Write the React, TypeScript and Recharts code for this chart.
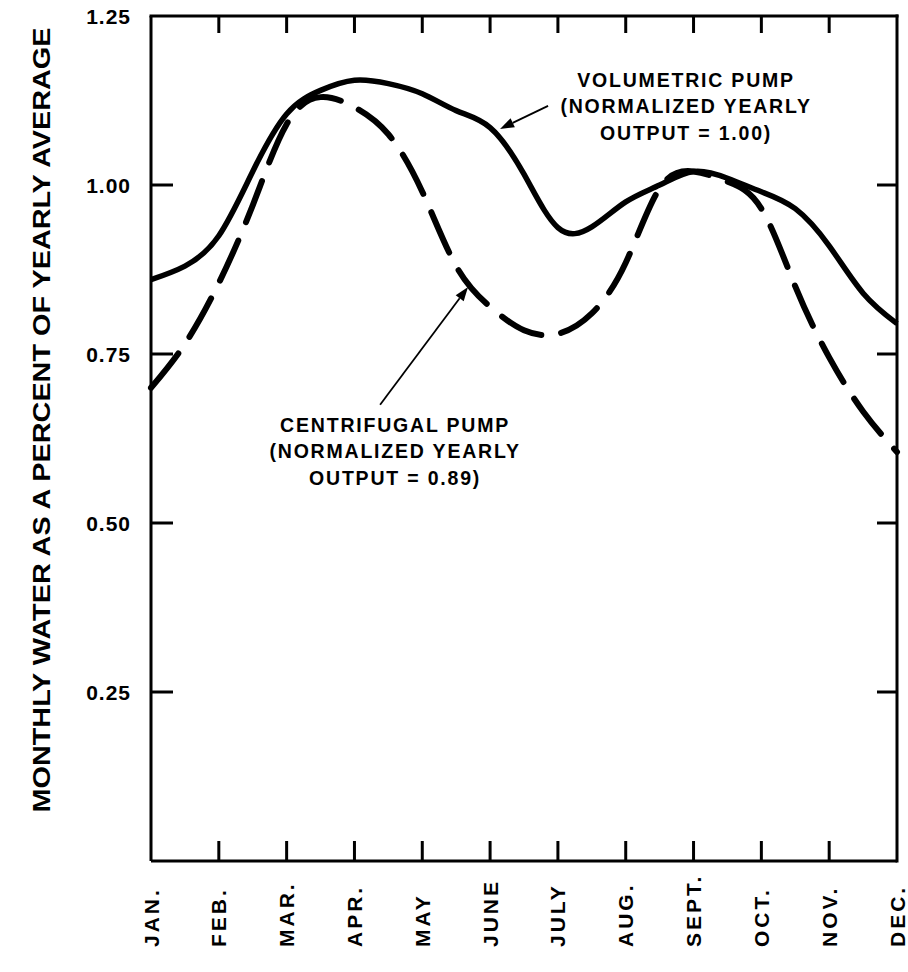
import { LineChart, Line, XAxis, YAxis, ReferenceLine, Label } from "recharts";

// month positions: 0 = JAN ... 11 = DEC, read every half month
const MONTHS = ["JAN.", "FEB.", "MAR.", "APR.", "MAY", "JUNE", "JULY", "AUG.", "SEPT.", "OCT.", "NOV.", "DEC."];
const POSITIONS = [0, 0.5, 1, 1.5, 2, 2.5, 3, 3.5, 4, 4.5, 5, 5.5, 6, 6.5, 7, 7.5, 8, 8.5, 9, 9.5, 10, 10.5, 11];
const VOLUMETRIC = [0.86, 0.88, 0.925, 1.02, 1.105, 1.14, 1.155, 1.15, 1.135, 1.11, 1.085, 1.016, 0.937, 0.938, 0.975, 1.0, 1.02, 1.01, 0.99, 0.965, 0.91, 0.84, 0.795];
const CENTRIFUGAL = [0.7, 0.765, 0.855, 0.97, 1.09, 1.13, 1.115, 1.075, 0.99, 0.88, 0.82, 0.785, 0.78, 0.81, 0.885, 0.995, 1.02, 1.005, 0.965, 0.85, 0.745, 0.665, 0.605];
const Y_TICKS = [0.25, 0.5, 0.75, 1.0, 1.25];
const Y_INNER_TICKS = [0.25, 0.5, 0.75, 1.0];
const X_TICKS = [0, 1, 2, 3, 4, 5, 6, 7, 8, 9, 10, 11];
const X_INNER_TICKS = [1, 2, 3, 4, 5, 6, 7, 8, 9, 10];

const VOL_NOTE = ["VOLUMETRIC PUMP", "(NORMALIZED YEARLY", "OUTPUT = 1.00)"];
const CEN_NOTE = ["CENTRIFUGAL PUMP", "(NORMALIZED YEARLY", "OUTPUT = 0.89)"];

const data = POSITIONS.map((m, i) => ({ m, vol: VOLUMETRIC[i], cen: CENTRIFUGAL[i] }));

const FONT = "'Liberation Sans', Arial, Helvetica, sans-serif";
const INK = "#000";
const FRAME = { stroke: INK, strokeWidth: 3 };

function MonthTick(props: any) {
  const { x, y, payload } = props;
  const ty = y + 86;
  return (
    <text
      x={x}
      y={ty}
      dy="0.36em"
      transform={`rotate(-90 ${x} ${ty})`}
      textAnchor="start"
      fontFamily={FONT}
      fontWeight="bold"
      fontSize={21}
      letterSpacing={3}
      fill={INK}
    >
      {MONTHS[payload.value]}
    </text>
  );
}

function ValueTick(props: any) {
  const { x, y, payload } = props;
  return (
    <text
      x={x}
      y={y}
      dy="0.36em"
      textAnchor="end"
      fontFamily={FONT}
      fontWeight="bold"
      fontSize={21}
      letterSpacing={1}
      fill={INK}
    >
      {payload.value.toFixed(2)}
    </text>
  );
}

// short inward tick stubs at both ends of a full-height / full-width reference line
const vStub = (p: any) => {
  const top = Math.min(p.y1, p.y2);
  const bot = Math.max(p.y1, p.y2);
  return (
    <g>
      <line x1={p.x1} x2={p.x1} y1={top} y2={top + 17} {...FRAME} />
      <line x1={p.x1} x2={p.x1} y1={bot} y2={bot - 20} {...FRAME} />
    </g>
  );
};
const hStub = (p: any) => {
  const left = Math.min(p.x1, p.x2);
  const right = Math.max(p.x1, p.x2);
  return (
    <g>
      <line y1={p.y1} y2={p.y1} x1={left} x2={left + 22} {...FRAME} />
      <line y1={p.y1} y2={p.y1} x1={right} x2={right - 20} {...FRAME} />
    </g>
  );
};
// top and right edges of the frame
const edge = (p: any) => (
  <line x1={p.x1} y1={p.y1} x2={p.x2} y2={p.y2} {...FRAME} strokeLinecap="square" />
);

// arrow from (x1,y1) to tip (x2,y2) plus a centred text block near the tail
function noteShape(lines: string[], dx: number, dy: number) {
  return (p: any) => {
    const { x1, y1, x2, y2 } = p;
    const ang = Math.atan2(y2 - y1, x2 - x1);
    const len = 14;
    const w = 5;
    const bx = x2 - len * Math.cos(ang);
    const by = y2 - len * Math.sin(ang);
    const px = -Math.sin(ang) * w;
    const py = Math.cos(ang) * w;
    return (
      <g>
        <line x1={x1} y1={y1} x2={bx} y2={by} stroke={INK} strokeWidth={1.8} />
        <polygon points={`${x2},${y2} ${bx + px},${by + py} ${bx - px},${by - py}`} fill={INK} />
        {lines.map((t, i) => (
          <text
            key={i}
            x={x1 + dx}
            y={y1 + dy + i * 26.5}
            dy="0.36em"
            textAnchor="middle"
            fontFamily={FONT}
            fontWeight="bold"
            fontSize={19.5}
            letterSpacing={1.8}
            fill={INK}
          >
            {t}
          </text>
        ))}
      </g>
    );
  };
}

export default function App() {
  return (
    <div style={{ position: "absolute", left: 0, top: 0, background: "#fff" }}>
      <LineChart width={908} height={972} data={data} margin={{ top: 16, right: 11, left: 0, bottom: 0 }}>
        <XAxis
          xAxisId="b"
          dataKey="m"
          type="number"
          domain={[0, 11]}
          ticks={X_TICKS}
          height={111}
          tickSize={0}
          tickMargin={0}
          tickLine={false}
          axisLine={FRAME}
          tick={<MonthTick />}
          interval={0}
        />
        <YAxis
          yAxisId="l"
          type="number"
          domain={[0, 1.25]}
          ticks={Y_TICKS}
          width={151}
          tickSize={0}
          tickMargin={20}
          tickLine={false}
          axisLine={FRAME}
          tick={<ValueTick />}
          interval={0}
        >
          <Label
            content={() => (
              <text
                x={41}
                y={420}
                dy="0.36em"
                transform="rotate(-90 41 420)"
                textAnchor="middle"
                fontFamily={FONT}
                fontWeight="bold"
                fontSize={24}
                textLength={785}
                lengthAdjust="spacingAndGlyphs"
                fill={INK}
              >
                MONTHLY WATER AS A PERCENT OF YEARLY AVERAGE
              </text>
            )}
          />
        </YAxis>
        <ReferenceLine xAxisId="b" yAxisId="l" y={1.25} shape={edge} />
        <ReferenceLine xAxisId="b" yAxisId="l" x={11} shape={edge} />
        {X_INNER_TICKS.map((m) => (
          <ReferenceLine key={`x${m}`} xAxisId="b" yAxisId="l" x={m} shape={vStub} />
        ))}
        {Y_INNER_TICKS.map((v) => (
          <ReferenceLine key={`y${v}`} xAxisId="b" yAxisId="l" y={v} shape={hStub} />
        ))}
        <Line
          xAxisId="b"
          yAxisId="l"
          dataKey="vol"
          type="natural"
          stroke={INK}
          strokeWidth={5.5}
          dot={false}
          activeDot={false}
          isAnimationActive={false}
        />
        <Line
          xAxisId="b"
          yAxisId="l"
          dataKey="cen"
          type="natural"
          stroke={INK}
          strokeWidth={6}
          strokeDasharray="44 20"
          strokeLinecap="round"
          dot={false}
          activeDot={false}
          isAnimationActive={false}
        />
        <ReferenceLine
          xAxisId="b"
          yAxisId="l"
          segment={[{ x: 5.855, y: 1.117 }, { x: 5.147, y: 1.083 }]}
          shape={noteShape(VOL_NOTE, 138, -26)}
        />
        <ReferenceLine
          xAxisId="b"
          yAxisId="l"
          segment={[{ x: 3.378, y: 0.675 }, { x: 4.675, y: 0.849 }]}
          shape={noteShape(CEN_NOTE, 15, 20)}
        />
      </LineChart>
    </div>
  );
}
